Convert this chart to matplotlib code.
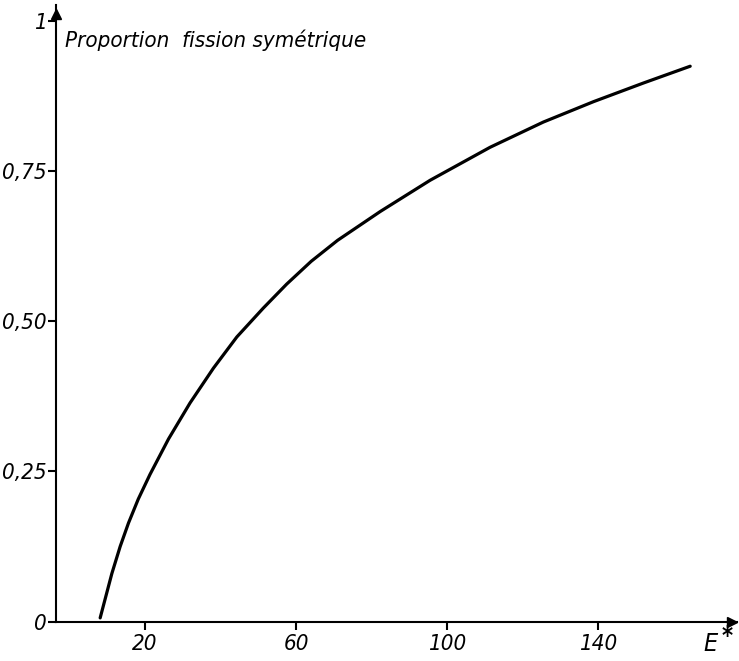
import matplotlib.pyplot as plt
import numpy as np

# excitation energy E* and symmetric fission proportion
energy = [8.1, 11.2, 13.4, 15.6, 18.2, 21.3, 26.2, 31.9, 38.1, 44.3, 51.3,
          57.5, 64.0, 71.0, 82.3, 95.5, 111.4, 125.5, 138.8, 152.0, 164.4]
proportion = [0.006, 0.080, 0.125, 0.164, 0.204, 0.245, 0.304, 0.364, 0.422,
              0.474, 0.522, 0.562, 0.600, 0.635, 0.683, 0.735, 0.790, 0.832,
              0.866, 0.897, 0.925]

xticks = [20, 60, 100, 140]
yticks = [0, 0.25, 0.5, 0.75, 1]
yticklabels = ['0', '0,25', '0,50', '0,75', '1']

plt.rcParams['font.family'] = ['DejaVu Sans']
plt.rcParams['font.style'] = 'italic'
plt.rcParams['font.stretch'] = 'condensed'

fig = plt.figure(figsize=(7.39, 6.61), dpi=100)
ax = fig.add_axes([56/739, 39.5/661, 681/739, 616.5/661])

ax.plot(energy, proportion, color='black', lw=2.3, solid_capstyle='round')

ax.set_xlim(-3.6, 176.8)
ax.set_ylim(0, 1.027)

for s in ['top', 'right']:
    ax.spines[s].set_visible(False)
for s in ['left', 'bottom']:
    ax.spines[s].set_linewidth(1.5)

ax.set_xticks(xticks)
ax.set_xticklabels([str(t) for t in xticks])
ax.set_yticks(yticks)
ax.set_yticklabels(yticklabels)
ax.tick_params(axis='both', length=6, width=1.5, labelsize=16, direction='out')
ax.tick_params(axis='y', pad=1)
ax.tick_params(axis='x', pad=3)

# arrow heads at the axis ends
ax.plot(0.992, 0, '>k', markersize=7, transform=ax.transAxes, clip_on=False)
ax.plot(0, 0.985, '^k', markersize=7, transform=ax.transAxes, clip_on=False)

ax.text(-1.2, 0.9575, 'Proportion  fission symétrique', fontsize=16,
        ha='left', va='baseline')
ax.text(167.8, -0.037, 'E', fontsize=18, ha='left', va='center')
ax.text(172.6, -0.024, '*', fontsize=17, ha='left', va='center', fontweight='bold')

fig.savefig('out.png', dpi=100)
